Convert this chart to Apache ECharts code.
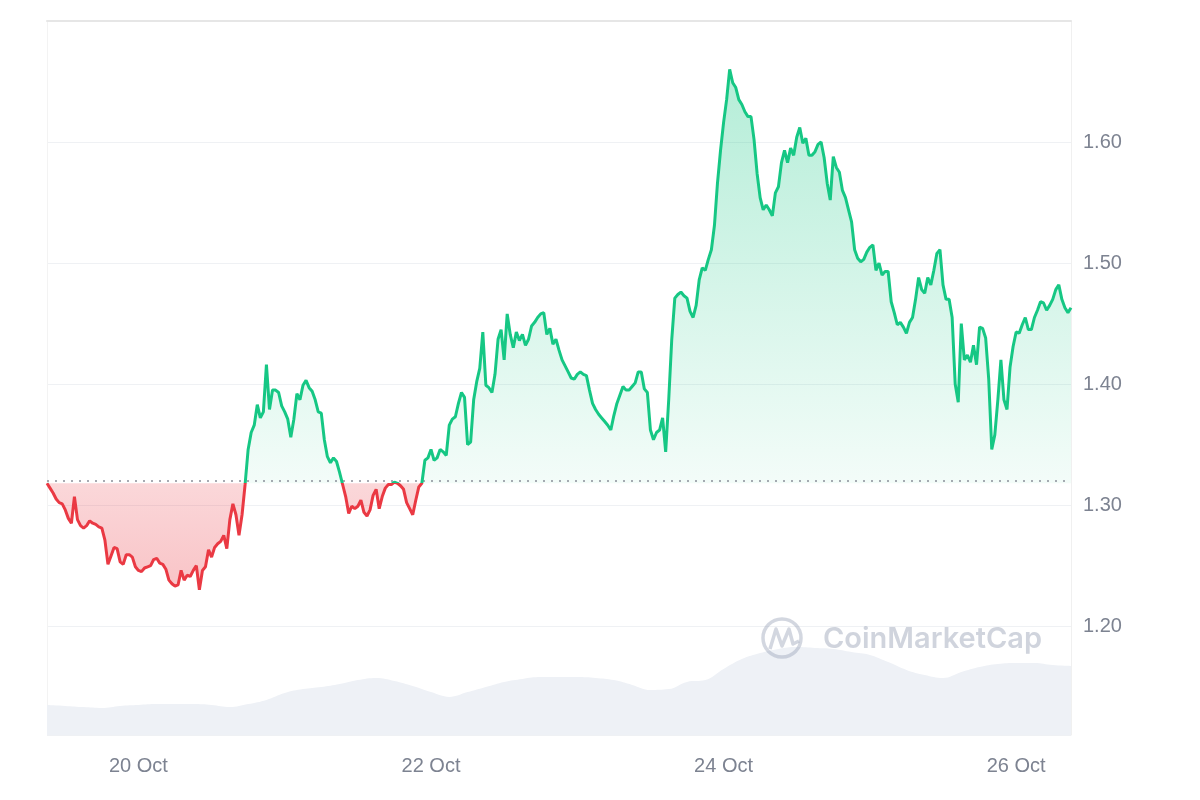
<!DOCTYPE html>
<html><head><meta charset="utf-8">
<script src="https://cdn.jsdelivr.net/npm/echarts@6/dist/echarts.min.js"></script>
<style>html,body{margin:0;padding:0;background:#fff}#c{width:1200px;height:800px}</style>
</head><body><div id="c"></div>
<script>
// ---- data ----
const BASE_PRICE = 1.318;           // opening price (dotted reference line)
const START_UTC = Date.UTC(2023, 9, 19, 9, 0);
const PRICE_STEP_MIN = 30;          // price sampled every 30 min
const VOLUME_STEP_MIN = 180;        // volume sampled every 3 h

const priceValues = [
1.318,1.314,1.310,1.305,1.302,1.301,1.296,1.289,1.285,1.307,
1.288,1.283,1.281,1.283,1.287,1.285,1.284,1.282,1.281,1.271,
1.251,1.258,1.265,1.264,1.253,1.251,1.259,1.259,1.257,1.249,
1.246,1.245,1.248,1.249,1.250,1.255,1.256,1.252,1.251,1.247,
1.238,1.235,1.233,1.234,1.246,1.238,1.242,1.241,1.246,1.250,
1.230,1.246,1.249,1.263,1.257,1.265,1.268,1.270,1.275,1.264,
1.288,1.301,1.292,1.275,1.292,1.317,1.346,1.360,1.366,1.383,
1.372,1.377,1.416,1.379,1.395,1.395,1.393,1.382,1.377,1.371,
1.356,1.371,1.392,1.387,1.399,1.403,1.397,1.394,1.387,1.377,
1.376,1.354,1.340,1.335,1.339,1.336,1.327,1.317,1.307,1.293,
1.299,1.297,1.299,1.304,1.294,1.291,1.296,1.308,1.313,1.297,
1.307,1.314,1.317,1.317,1.319,1.318,1.316,1.313,1.302,1.297,
1.292,1.304,1.315,1.318,1.337,1.339,1.346,1.337,1.339,1.346,
1.344,1.341,1.366,1.371,1.373,1.384,1.393,1.389,1.350,1.352,
1.387,1.402,1.413,1.443,1.399,1.397,1.393,1.408,1.437,1.445,
1.420,1.458,1.441,1.430,1.443,1.436,1.441,1.432,1.437,1.448,
1.451,1.455,1.458,1.459,1.441,1.446,1.433,1.437,1.428,1.420,
1.415,1.410,1.405,1.404,1.408,1.410,1.408,1.407,1.395,1.384,
1.379,1.375,1.372,1.369,1.366,1.362,1.374,1.384,1.391,1.398,
1.395,1.395,1.398,1.401,1.410,1.410,1.396,1.393,1.362,1.354,
1.360,1.362,1.372,1.344,1.387,1.437,1.471,1.474,1.476,1.473,
1.471,1.460,1.455,1.465,1.486,1.496,1.494,1.503,1.511,1.531,
1.566,1.593,1.616,1.635,1.660,1.649,1.645,1.635,1.631,1.625,
1.621,1.621,1.602,1.574,1.554,1.544,1.548,1.544,1.539,1.558,
1.563,1.583,1.593,1.583,1.595,1.589,1.604,1.612,1.599,1.603,
1.589,1.589,1.592,1.598,1.600,1.587,1.566,1.552,1.588,1.579,
1.575,1.560,1.554,1.544,1.534,1.511,1.504,1.501,1.503,1.509,
1.513,1.515,1.494,1.500,1.490,1.493,1.493,1.468,1.459,1.449,
1.451,1.447,1.442,1.451,1.455,1.470,1.488,1.478,1.475,1.488,
1.482,1.494,1.508,1.511,1.482,1.470,1.470,1.455,1.400,1.385,
1.450,1.420,1.424,1.418,1.432,1.416,1.447,1.446,1.438,1.404,
1.346,1.358,1.387,1.420,1.387,1.379,1.414,1.431,1.443,1.442,
1.449,1.455,1.445,1.445,1.455,1.461,1.468,1.467,1.461,1.465,
1.470,1.478,1.482,1.470,1.463,1.459,1.463
];

// trading volume (millions, 3-hour samples)
const volumeValues = [
10.0,9.7,9.3,9.0,9.7,10.0,10.3,10.3,10.3,10.0,
9.3,10.3,11.7,14.0,15.3,16.0,17.0,18.3,19.0,18.0,
16.3,14.3,12.7,14.3,16.0,17.7,18.7,19.3,19.3,19.3,
19.0,18.3,16.7,15.0,15.3,17.7,18.3,22.0,25.3,27.3,
28.7,29.3,29.0,28.7,27.7,26.7,24.3,21.7,20.0,19.0,
21.0,22.7,23.7,24.0,24.0,23.3,23.0
];

const xTickCategories = ['2023-10-20 00:00','2023-10-22 00:00','2023-10-24 00:00','2023-10-26 00:00'];
const xTickLabels = ['20 Oct','22 Oct','24 Oct','26 Oct'];
const yTickFormat = 2;

// ---- build ----
function pad(n){return (n<10?'0':'')+n;}
function fmt(ms){const d=new Date(ms);return d.getUTCFullYear()+'-'+pad(d.getUTCMonth()+1)+'-'+pad(d.getUTCDate())+' '+pad(d.getUTCHours())+':'+pad(d.getUTCMinutes());}
const priceCategories = priceValues.map((_, i) => fmt(START_UTC + i*PRICE_STEP_MIN*60000));
const volumeCategories = volumeValues.map((_, i) => fmt(START_UTC + i*VOLUME_STEP_MIN*60000));
const aboveValues = priceValues.map(v => Math.max(v, BASE_PRICE));
const belowValues = priceValues.map(v => Math.min(v, BASE_PRICE));

const GREEN = '#16c784', RED = '#ea3943';
const chart = echarts.init(document.getElementById('c'), null, {renderer:'canvas'});
chart.setOption({
  animation: false,
  backgroundColor: '#ffffff',
  grid: {left: 47, right: 129, top: 21, bottom: 65, containLabel: false},
  xAxis: [{
    type: 'category', data: priceCategories, boundaryGap: false,
    axisLine: {show: false}, axisTick: {show: false}, splitLine: {show: false},
    axisLabel: {
      interval: (idx, val) => xTickCategories.indexOf(val) >= 0,
      formatter: (val) => { const i = xTickCategories.indexOf(val); return i >= 0 ? xTickLabels[i] : ''; },
      color: '#7d8391', fontSize: 20, fontFamily: 'Liberation Sans, Arial, sans-serif', margin: 21
    }
  }, {
    type: 'category', data: volumeCategories, boundaryGap: false, position: 'top',
    axisLine: {show: true, lineStyle: {color: '#e6e6e6', width: 2}},
    axisTick: {show: false}, axisLabel: {show: false}, splitLine: {show: false}
  }],
  yAxis: [{
    type: 'value', position: 'right', min: 1.11, max: 1.70, scale: true,
    axisLine: {show: true, lineStyle: {color: '#f0f0f0'}},
    axisTick: {show: false},
    splitLine: {show: true, lineStyle: {color: '#eff1f4', width: 1}},
    axisLabel: {
      showMinLabel: false, showMaxLabel: false,
      formatter: v => v.toFixed(yTickFormat),
      color: '#7d8391', fontSize: 20, fontFamily: 'Liberation Sans, Arial, sans-serif', margin: 12
    }
  }, {
    type: 'value', position: 'left', min: 0, max: 238,
    axisLine: {show: true, lineStyle: {color: '#f3f3f3'}},
    axisTick: {show: false}, axisLabel: {show: false}, splitLine: {show: false}
  }],
  visualMap: {
    show: false, type: 'piecewise', seriesIndex: 3, dimension: 1,
    pieces: [{gte: 0, lt: BASE_PRICE, color: RED}, {gte: BASE_PRICE, lte: 10, color: GREEN}]
  },
  graphic: [
    {type: 'circle', z: 5, shape: {cx: 782, cy: 638, r: 19}, style: {fill: 'none', stroke: 'rgba(150,160,180,0.42)', lineWidth: 3.5}},
    {type: 'polyline', z: 5, shape: {points: [[770,649],[776,629],[782,646],[789,629],[793,644],[799,641]]}, style: {fill: 'none', stroke: 'rgba(150,160,180,0.42)', lineWidth: 3.5, lineJoin: 'round'}},
    {type: 'text', z: 5, left: 823, top: 625, style: {text: 'CoinMarketCap', fill: 'rgba(150,160,180,0.45)', font: '600 29px Inter, sans-serif'}}
  ],
  series: [{
    name: 'Volume', type: 'line', xAxisIndex: 1, yAxisIndex: 1, data: volumeValues,
    smooth: 0.4, showSymbol: false, silent: true, z: 1,
    lineStyle: {width: 0}, areaStyle: {color: '#eef1f6', opacity: 1}
  }, {
    name: 'Above', type: 'line', data: aboveValues, showSymbol: false, silent: true, z: 2,
    lineStyle: {width: 0},
    areaStyle: {origin: BASE_PRICE, opacity: 1, color: new echarts.graphic.LinearGradient(0,0,0,1,[
      {offset: 0, color: 'rgba(22,199,132,0.32)'}, {offset: 1, color: 'rgba(22,199,132,0.05)'}])},
    markLine: {
      silent: true, symbol: ['none','none'], label: {show: false},
      lineStyle: {color: '#8a8f99', type: [2, 6], width: 1.5},
      data: [{yAxis: BASE_PRICE}]
    }
  }, {
    name: 'Below', type: 'line', data: belowValues, showSymbol: false, silent: true, z: 2,
    lineStyle: {width: 0},
    areaStyle: {origin: BASE_PRICE, opacity: 1, color: new echarts.graphic.LinearGradient(0,0,0,1,[
      {offset: 0, color: 'rgba(234,57,67,0.20)'}, {offset: 1, color: 'rgba(234,57,67,0.30)'}])}
  }, {
    name: 'Price', type: 'line', data: priceValues, showSymbol: false, z: 10,
    lineStyle: {width: 3}
  }]
});
</script></body></html>
